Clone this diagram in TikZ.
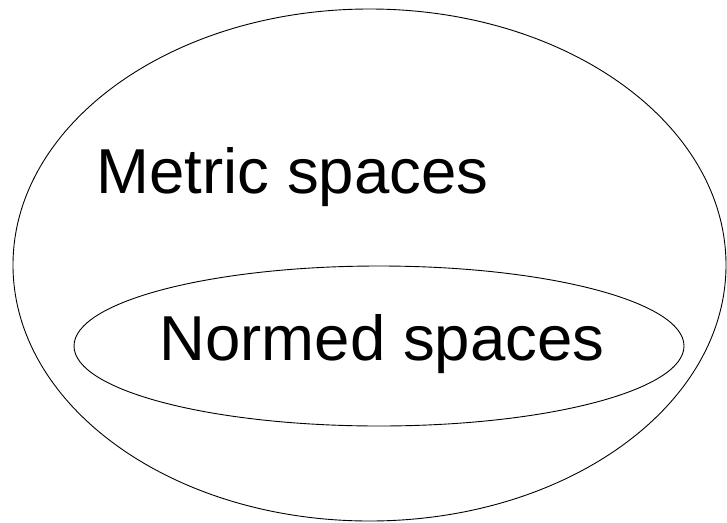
\documentclass[tikz,border=0pt]{standalone}
\usepackage{fontspec}
\setmainfont{Liberation Sans}
\usepackage{tikz}
\tikzset{
	set/.style={
		draw,
		line width=0.9pt,
	},
	setname/.style={
		inner sep=0pt,
		anchor=base,
		font=\fontsize{63.5}{70}\selectfont,
	},
}

\begin{document}
\begin{tikzpicture}[x=1pt,y=-1pt]
	\useasboundingbox (0,0) rectangle (727,522);
	% Sets
	\draw[set] (369.5,265) ellipse [x radius=356.5, y radius=256];
	\draw[set] (379,346) ellipse [x radius=305, y radius=80];
	
	% Names
	\node[setname] (metric) at (292.5,193) {Metric spaces};
	\node[setname] (normed) at (382,360) {Normed spaces};
\end{tikzpicture}
\end{document}
